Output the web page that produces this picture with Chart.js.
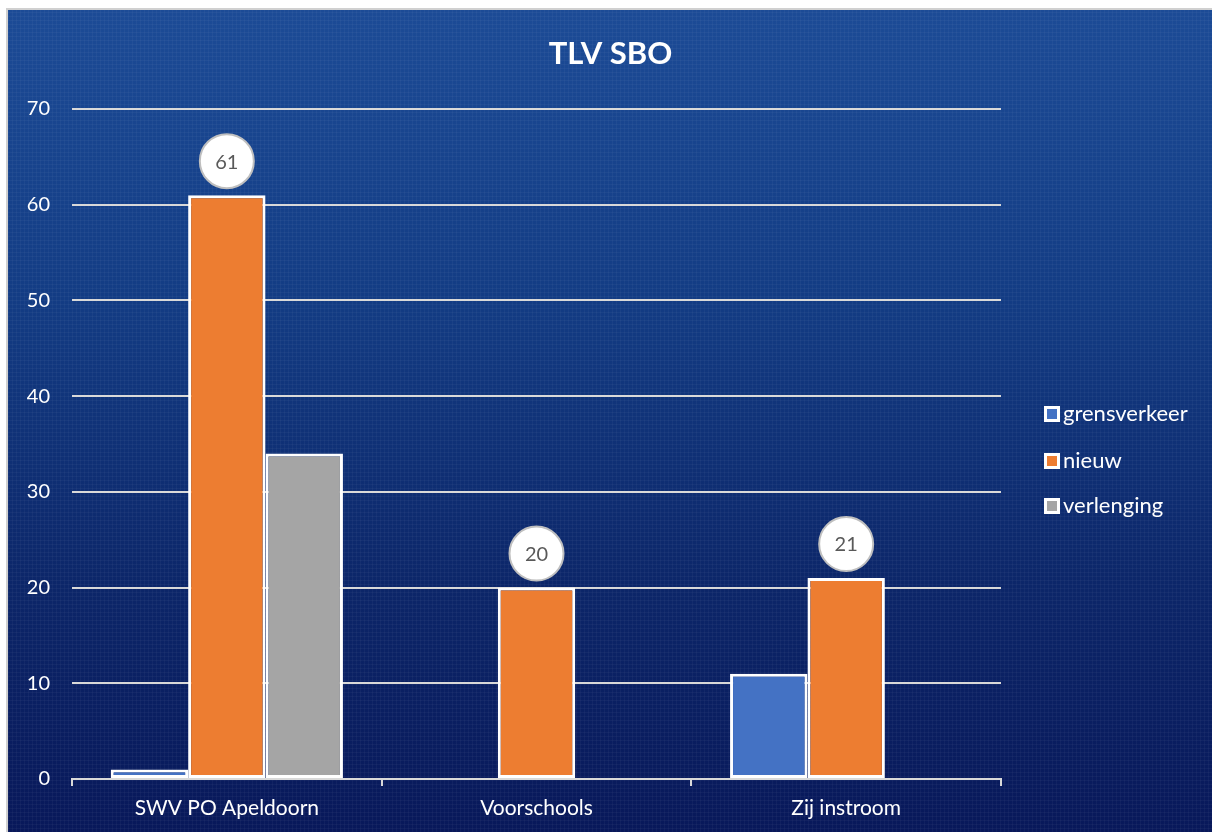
<!DOCTYPE html>
<html>
<head>
<meta charset="utf-8">
<script src="https://cdn.jsdelivr.net/npm/chart.js@4.4.1/dist/chart.umd.min.js"></script>
<style>
  html, body { margin: 0; padding: 0; background: #fff; }
  #wrap {
    position: absolute; left: 6px; top: 8px; width: 1205px; height: 823px;
    border-top: 2px solid #d0d0d0; border-left: 2px solid #d0d0d0;
    background:
      repeating-linear-gradient(90deg, rgba(255,255,255,0.035) 0 1px, transparent 1px 4px),
      repeating-linear-gradient(0deg, rgba(255,255,255,0.035) 0 1px, transparent 1px 4px),
      linear-gradient(180deg, #1c4b96 0%, #133c84 35%, #0c2669 70%, #08185a 100%);
  }
  canvas { display: block; }
</style>
</head>
<body>
<div id="wrap"><canvas id="tlvChart" width="1205" height="823"></canvas></div>
<script>
// Chart data
const categories = ['SWV PO Apeldoorn', 'Voorschools', 'Zij instroom'];
const grensverkeer = [1, null, 11];
const nieuw = [61, 20, 21];
const verlenging = [34, null, null];
const yTicks = [0, 10, 20, 30, 40, 50, 60, 70];
const chartTitle = 'TLV SBO';

const FONT = 'Lato, "Open Sans", sans-serif';
const gridColor = '#d9d9d9';

// Title centred over the whole canvas (not just the plot area)
const wideTitle = {
  id: 'wideTitle',
  afterDraw(chart) {
    const ctx = chart.ctx;
    ctx.save();
    ctx.fillStyle = '#ffffff';
    ctx.font = 'bold 31px ' + FONT;
    ctx.textAlign = 'center';
    ctx.textBaseline = 'middle';
    ctx.fillText(chartTitle, chart.width / 2, 44);
    ctx.restore();
  }
};

// Round value bubbles above the "nieuw" bars
const bubbleLabels = {
  id: 'bubbleLabels',
  afterDatasetsDraw(chart) {
    const ctx = chart.ctx;
    const meta = chart.getDatasetMeta(1);
    meta.data.forEach((bar, i) => {
      const v = chart.data.datasets[1].data[i];
      if (v == null) return;
      const cx = bar.x;
      const cy = bar.y - 34;
      ctx.save();
      ctx.beginPath();
      ctx.arc(cx, cy, 27, 0, Math.PI * 2);
      ctx.fillStyle = '#ffffff';
      ctx.fill();
      ctx.lineWidth = 2;
      ctx.strokeStyle = '#bfbfbf';
      ctx.stroke();
      ctx.fillStyle = '#595959';
      ctx.font = '20px ' + FONT;
      ctx.textAlign = 'center';
      ctx.textBaseline = 'middle';
      ctx.fillText(String(v), cx, cy + 1);
      ctx.restore();
    });
  }
};

// Legend on the right side
const sideLegend = {
  id: 'sideLegend',
  afterDraw(chart) {
    const ctx = chart.ctx;
    const x = 1036;
    const ys = [404, 451, 496];
    chart.data.datasets.forEach((ds, i) => {
      ctx.save();
      ctx.fillStyle = '#ffffff';
      ctx.fillRect(x, ys[i] - 8, 16, 16);
      ctx.fillStyle = ds.backgroundColor;
      ctx.fillRect(x + 3, ys[i] - 5, 10, 10);
      ctx.fillStyle = '#ffffff';
      ctx.font = '22px ' + FONT;
      ctx.textAlign = 'left';
      ctx.textBaseline = 'middle';
      ctx.fillText(ds.label, x + 19, ys[i]);
      ctx.restore();
    });
  }
};

const barStyle = { borderColor: '#ffffff', borderWidth: 3, borderSkipped: false };

new Chart(document.getElementById('tlvChart'), {
  type: 'bar',
  data: {
    labels: categories,
    datasets: [
      { label: 'grensverkeer', data: grensverkeer, backgroundColor: '#4472c4', ...barStyle },
      { label: 'nieuw', data: nieuw, backgroundColor: '#ed7d31', ...barStyle },
      { label: 'verlenging', data: verlenging, backgroundColor: '#a5a5a5', ...barStyle }
    ]
  },
  options: {
    responsive: false,
    animation: false,
    categoryPercentage: 0.75,
    barPercentage: 1.0,
    layout: { padding: { left: 0, right: 212, top: 99, bottom: 0 } },
    plugins: {
      legend: { display: false },
      tooltip: { enabled: false },
      title: { display: false }
    },
    scales: {
      x: {
        grid: { display: true, drawOnChartArea: false, drawTicks: true, tickLength: 7, color: gridColor, lineWidth: 2 },
        border: { display: true, color: gridColor, width: 2 },
        ticks: { color: '#ffffff', font: { family: FONT, size: 21 }, padding: 10 },
        afterFit(scale) { scale.height = 54; }
      },
      y: {
        min: 0,
        max: 70,
        afterBuildTicks(scale) { scale.ticks = yTicks.map(v => ({ value: v })); },
        grid: { color: gridColor, lineWidth: 2, drawTicks: false },
        border: { display: false },
        ticks: { color: '#ffffff', font: { family: FONT, size: 20 }, padding: 22 },
        afterFit(scale) { scale.width = 64; }
      }
    }
  },
  plugins: [wideTitle, bubbleLabels, sideLegend]
});
</script>
</body>
</html>
